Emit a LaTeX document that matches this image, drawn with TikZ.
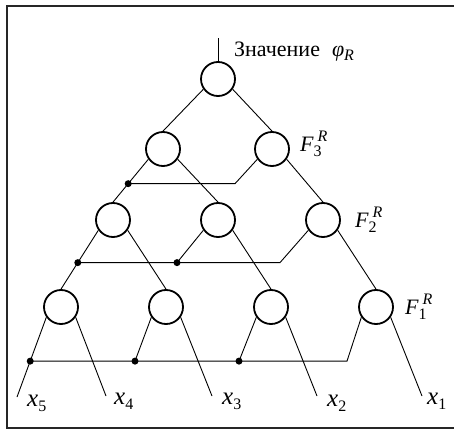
\documentclass[tikz,border=0pt]{standalone}
\usepackage{fontspec}
\setmainfont{Liberation Serif}
\usetikzlibrary{positioning, calc}

% variable name with a lowered index
\newcommand{\xin}[1]{%
  {\fontsize{25}{25}\selectfont\textit{x}}\raisebox{-5pt}{\fontsize{16}{16}\selectfont #1}}
% F with stacked R (above) and index (below)
\newcommand{\fun}[1]{%
  {\fontsize{22}{22}\selectfont\textit{F}}%
  \rlap{\raisebox{10pt}{\kern4pt\fontsize{16}{16}\selectfont\textit{R}}}%
  \raisebox{-5pt}{\fontsize{16}{16}\selectfont #1}}

\begin{document}
\begin{tikzpicture}[
  x=1pt, y=-1pt,
  font=\fontsize{22}{24}\selectfont,
  unit/.style={circle, draw=black, line width=1.8pt, fill=white,
               minimum size=34pt, inner sep=0pt},
  link/.style={draw=black, line width=0.9pt},
  junc/.style={circle, fill=black, inner sep=0pt, minimum size=7pt},
  lbl/.style={inner sep=0pt},
  frame/.style={draw=black!85, line width=2pt},
]
\useasboundingbox (0,0) rectangle (454,430);
\draw[frame] (456,6) -| (7,428) -- (456,428);

% ── units, level by level ────────────────────────────────────────────────
\node[unit] (top) at (218,79) {};

\node[unit] (u31) at (163,149) {};
\node[unit] (u32) at (272,149) {};

\node[unit] (u21) at (113,220) {};
\node[unit] (u22) at (218,220) {};
\node[unit] (u23) at (323,220) {};

\node[unit] (u11) at (61,307)  {};
\node[unit] (u12) at (166,307) {};
\node[unit] (u13) at (271,307) {};
\node[unit] (u14) at (376,307) {};

% ── output ───────────────────────────────────────────────────────────────
\coordinate (out) at (218,38);
\draw[link] (top.north) -- (out);
\node[lbl, anchor=base west] (val) at (234,57)
  {Значение\hspace{12pt}\textit{φ}\raisebox{-4pt}{\fontsize{16}{16}\selectfont\textit{R}}};

% ── level 3 ──────────────────────────────────────────────────────────────
\draw[link] (top.215) -- (u31.north);
\draw[link] (top.325) -- (u32.north);
\draw[link] (u31.215) -- (u21.north) coordinate[pos=0.57] (j3);
\draw[link] (u31.325) -- (u22.north);
\draw[link] (u32.325) -- (u23.north);

\coordinate (k3) at (235,0);
\node[junc] (d3) at (j3) {};
\draw[link] (d3.center) -- (d3 -| k3) -- (u32.215);

\node[lbl, right=10pt of u32, yshift=5pt] (f3) {\fun{3}};

% ── level 2 ──────────────────────────────────────────────────────────────
\draw[link] (u21.215) -- (u11.north) coordinate[pos=0.55] (j2);
\draw[link] (u21.325) -- (u12.north);
\draw[link] (u22.325) -- (u13.north);
\draw[link] (u23.325) -- (u14.north);

\coordinate (k2a) at (177,0);
\coordinate (k2b) at (280,0);
\node[junc] (d2a) at (j2) {};
\node[junc] (d2b) at (j2 -| k2a) {};
\draw[link] (d2a.center) -- (d2a -| k2b) -- (u23.215);
\draw[link] (u22.215) -- (d2b.center);

\node[lbl, right=14pt of u23] (f2) {\fun{2}};

% ── level 1 and inputs ───────────────────────────────────────────────────
\coordinate (in5) at (17,397);
\coordinate (in4) at (106,396);
\coordinate (in3) at (212,396);
\coordinate (in2) at (317,396);
\coordinate (in1) at (422,396);

\draw[link] (u11.215) -- (in5) coordinate[pos=0.55] (j1);
\draw[link] (u11.325) -- (in4);
\draw[link] (u12.325) -- (in3);
\draw[link] (u13.325) -- (in2);
\draw[link] (u14.325) -- (in1);

\coordinate (k1b) at (135,0);
\coordinate (k1c) at (239,0);
\coordinate (k1d) at (347,0);
\node[junc] (d1a) at (j1) {};
\node[junc] (d1b) at (j1 -| k1b) {};
\node[junc] (d1c) at (j1 -| k1c) {};
\draw[link] (d1a.center) -- (d1a -| k1d) -- (u14.215);
\draw[link] (u12.215) -- (d1b.center);
\draw[link] (u13.215) -- (d1c.center);

\node[lbl, right=11pt of u14] (f1) {\fun{1}};

\node[lbl, anchor=base west] (x5) at (27,406)  {\xin{5}};
\node[lbl, anchor=base west] (x4) at (114,404) {\xin{4}};
\node[lbl, anchor=base west] (x3) at (222,404) {\xin{3}};
\node[lbl, anchor=base west] (x2) at (327,406) {\xin{2}};
\node[lbl, anchor=base west] (x1) at (427,404) {\xin{1}};

\end{tikzpicture}
\end{document}
